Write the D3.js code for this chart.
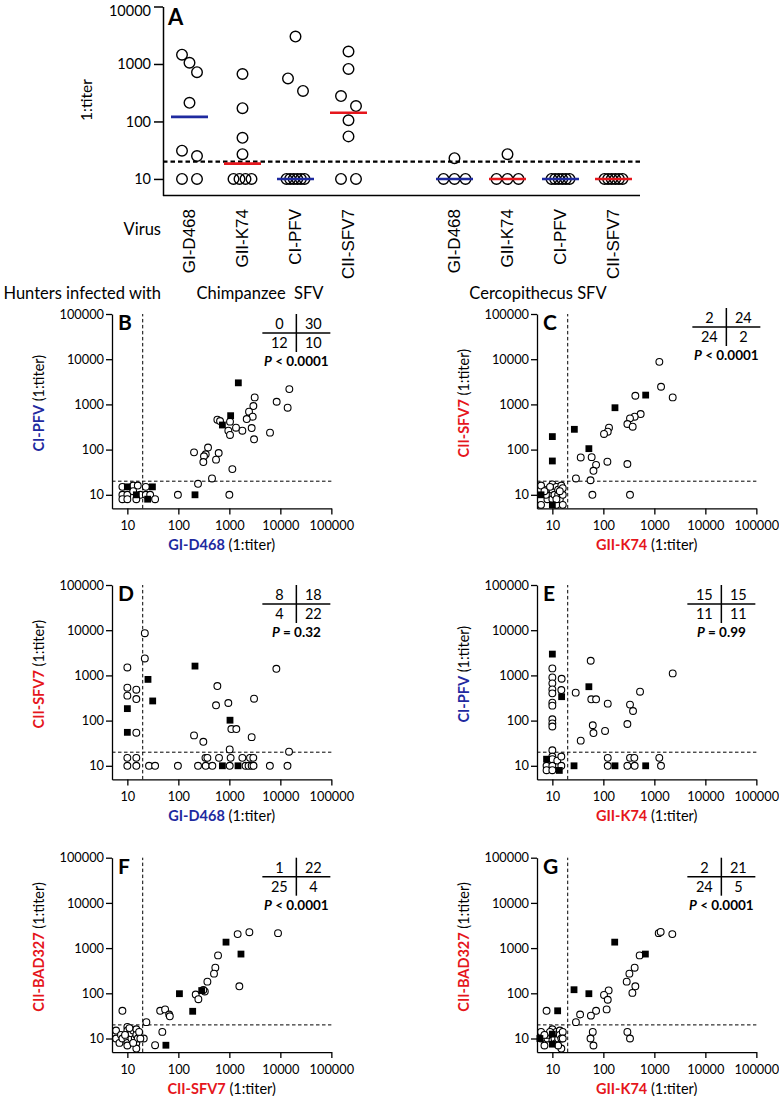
<!DOCTYPE html>
<html><head><meta charset="utf-8">
<script src="https://cdn.jsdelivr.net/npm/d3@7"></script>
<style>body{margin:0;background:#fff} svg{display:block}</style>
</head><body><svg id="c" width="779" height="1096"></svg>
<script>
const BLUE = "#1f2a9f", RED = "#e5161c";
const FONT = "Lato, 'Open Sans', sans-serif";

// ---------- Panel A data ----------
const virusLabels = ["GI-D468", "GII-K74", "CI-PFV", "CII-SFV7"];
const virusColors = [BLUE, RED, BLUE, RED];
const hostGroups = ["Chimpanzee  SFV", "Cercopithecus SFV"];
const chimpGID468 = [1450, 1050, 720, 211, 31, 25, 10, 10];
const chimpGIIK74 = [670, 170, 52, 27, 10, 10, 10, 10];
const chimpCIPFV = [3000, 560, 340, 10, 10, 10, 10, 10, 10];
const chimpCIISFV7 = [1650, 820, 276, 185, 105, 55, 10, 10];
const cercoGID468 = [23, 10, 10, 10];
const cercoGIIK74 = [27, 10, 10, 10];
const cercoCIPFV = [10, 10, 10, 10, 10, 10];
const cercoCIISFV7 = [10, 10, 10, 10, 10, 10];
const aMedians = [120, 18.5, 10, 142, 10, 10, 10, 10];
const aTicks = [10, 100, 1000, 10000];
const cutoff = 20;

// ---------- Scatter panel data ----------
const scatterTicks = [10, 100, 1000, 10000, 100000];

const bCircles = [[15000,2180],[8470,1145],[13900,845],[3140,1430],[2960,920],[2430,690],[2870,534],[2190,474],[2740,300],[3050,169],[6270,237],[1800,262],[1350,305],[1030,415],[955,262],[1030,211],[582,459],[657,429],[1145,37],[618,84],[548,60],[382,111],[344,79],[318,71],[309,53],[203,87],[457,23],[243,17.5],[98,10],[1000,10],
  [8,15],[13,16],[16,16],[8,10],[10,10],[18,10],[8,8],[10,8],[15,8],[13,12],[23,15],[23,10],[28,10],[35,8]];
const bSquares = [[1500,3000],[1060,563],[730,350],[212,10],[10,15],[15,10],[31,15],[25,8]];
const bTable = ["0", "30", "12", "10"];
const bP = "< 0.0001";

const cCircles = [[1253,8730],[1353,2455],[2290,1427],[424,1553],[539,612],[411,535],[333,491],[296,368],[376,321],[129,305],[122,249],[103,222],[36,67],[59,68],[72,46],[64,34],[120,54],[296,48],[29,23],[56,21],[61,10],[333,10],
  [6,16],[6,6],[8,13],[8,8],[7.5,10],[10,17],[10,13],[10,8],[11,10],[12,15],[12,6],[13,10],[13,13],[14,8],[15,16],[16,10],[16,6],[16,14],[7,12],[9,15],[14,12],[12,8]];
const cSquares = [[676,1607],[169,844],[27,281],[52,105],[10,194],[10,56],[6,10],[10,6]];
const cTable = ["2", "24", "24", "2"];
const cP = "< 0.0001";

const dCircles = [[22,8590],[22,2370],[10,1500],[10,535],[10,356],[15,483],[15,300],[15,54],[8350,1400],[582,582],[548,218],[955,245],[3050,305],[1095,65],[1370,65],[203,47],[309,34],[2740,43],[1016,23],[14800,20.5],
  [10,15],[15,15],[10,10],[15,10],
  [340,15],[371,15],[627,15],[1060,15],[1800,15],[2540,15],[2950,15],
  [26.6,10],[35,10],[98,10],[243,10],[344,10],[464,10],[1016,10],[2080,10],[2380,10],[2740,10],[2980,10],[6230,10],[13800,10]];
const dSquares = [[25.4,816],[31.4,272],[212,1607],[1030,102],[10,184],[10,55],[730,10],[1480,10]];
const dTable = ["8", "18", "4", "22"];
const dP = "= 0.32";

const eCircles = [[2290,1107],[56.5,2110],[524,436],[28.7,415],[58,296],[72,296],[122,237],[333,226],[382,163],[62,79],[64,53],[108,59],[296,84],[36,36],[15.2,844],[15,474],
  [10,1427],[10,903],[10,667],[10,491],[10,401],[10,249],[10,214],[10,107],[10,87],[10,74],[10,22],
  [122,15],[122,10],[296,10],[333,15],[405,15],[411,10],[1250,15],[1350,10],
  [7.7,10],[7.7,8],[10,16],[10,14],[10,10],[10,8],[12.5,13],[15,16],[15,10]];
const eSquares = [[10,2960],[52,562],[15.2,338],[26.6,10],[169,10],[676,10],[7.7,14],[13.7,7.9]];
const eTable = ["15", "15", "11", "11"];
const eP = "= 0.99";

const fCircles = [[9000,2140],[2470,2250],[1455,2040],[1570,143],[600,689],[531,368],[500,272],[371,181],[330,110],[309,118],[219,94],[247,74],[44,41],[55,44],[66,34],[68,31],[23.6,23],[8,41],[48.5,14],[35,7.1],[21,10],
  [6,15],[6,10],[7,8],[7.5,12],[8,10],[10,18],[10,15],[10,12],[10,10],[10,8],[10,7],[12,10],[12,13],[13,15],[14,10],[15,16],[15,12],[15,8],[15,6],[16,10],[18,10],[9,12],[11,17],[13,8],[17,14]];
const fSquares = [[860,1355],[1690,738],[105,98],[287,115],[191,40],[57,7.1]];
const fTable = ["1", "22", "25", "4"];
const fP = "< 0.0001";

const gCircles = [[1217,2140],[1330,2280],[2250,2040],[515,689],[411,368],[324,272],[287,181],[424,143],[371,102],[127,116],[103,92],[122,72],[116,44],[72,41],[57,32],[35,34],[29,23],[7.7,41],[62,14],[56,10],[64,7],[296,14],[333,10],
  [6,14],[6,10],[7,7],[8,10],[8,12],[10,16],[10,12],[10,9],[11,10],[12,14],[12,8],[13,10],[14,15],[14,12],[15,10],[15,6],[16,14],[16,10],[9,14],[13,7],[7,12]];
const gSquares = [[167,1355],[667,738],[26.6,120],[52,98],[12.7,41],[5.7,10],[10,12.5],[10,7.5]];
const gTable = ["2", "21", "24", "5"];
const gP = "< 0.0001";

// ---------- drawing ----------
const svg = d3.select("#c");

// Panel A
const aY = d3.scaleLog().domain([5.15, 10000]).range([195.5, 6.5]);
const aSlots = ["c0","c1","c2","c3","gap","k0","k1","k2","k3"];
const aX = d3.scalePoint().domain(aSlots).range([163, 640]).padding(0.5);
const aGroups = [
  {slot:"c0", vals:chimpGID468}, {slot:"c1", vals:chimpGIIK74}, {slot:"c2", vals:chimpCIPFV}, {slot:"c3", vals:chimpCIISFV7},
  {slot:"k0", vals:cercoGID468}, {slot:"k1", vals:cercoGIIK74}, {slot:"k2", vals:cercoCIPFV}, {slot:"k3", vals:cercoCIISFV7}
];
const gA = svg.append("g");

gA.append("line").attr("x1", 163).attr("x2", 640).attr("y1", aY(cutoff)).attr("y2", aY(cutoff))
  .attr("stroke", "#000").attr("stroke-width", 2.2).attr("stroke-dasharray", "4.5,3");

function layoutGroup(vals) {
  const pts = vals.map(v => ({v, y: aY(v)})).sort((a, b) => a.y - b.y);
  const clusters = [];
  pts.forEach((p, i) => {
    if (i === 0 || p.y - pts[i-1].y >= 14) clusters.push([p]); else clusters[clusters.length-1].push(p);
  });
  clusters.forEach(cl => {
    const k = cl.length;
    const tied = cl.every(p => p.v === cl[0].v);
    const s = k === 1 ? 0 : k === 2 ? 15 : k === 3 ? (tied ? 11 : 7.5) : 18 / (k - 1);
    cl.forEach((p, i) => p.dx = (i - (k - 1) / 2) * s);
  });
  return pts;
}

aGroups.forEach((g, gi) => {
  const cx = aX(g.slot);
  const pts = layoutGroup(g.vals);
  gA.selectAll(null).data(pts).enter().append("circle")
    .attr("cx", d => cx + d.dx).attr("cy", d => d.y).attr("r", 5.3)
    .attr("fill", "none").attr("stroke", "#000").attr("stroke-width", 1.4);
  gA.append("line").attr("x1", cx - 18.5).attr("x2", cx + 18.5)
    .attr("y1", aY(aMedians[gi])).attr("y2", aY(aMedians[gi]))
    .attr("stroke", virusColors[gi % 4]).attr("stroke-width", 2.6);
});

const aAxis = gA.append("g").attr("transform", "translate(163,0)")
  .call(d3.axisLeft(aY).tickValues(aTicks).tickFormat(d3.format("d")).tickSize(9).tickPadding(3).tickSizeOuter(0));
aAxis.attr("font-family", FONT).attr("font-size", 14.5);
aAxis.selectAll("path,line").attr("stroke", "#000").attr("stroke-width", 1.5);
aAxis.selectAll("text").attr("fill", "#000");
// keep the topmost tick label fully inside the page
aAxis.selectAll(".tick text").filter(d => d === 10000).attr("dy", "0.62em");
gA.append("line").attr("x1", 163).attr("x2", 640).attr("y1", 195.5).attr("y2", 195.5)
  .attr("stroke", "#000").attr("stroke-width", 1.5);

gA.append("text").attr("x", 168).attr("y", 25).attr("font-family", FONT).attr("font-weight", "bold")
  .attr("font-size", 22).text("A");
gA.append("text").attr("transform", "translate(92,100) rotate(-90)").attr("text-anchor", "middle")
  .attr("font-family", FONT).attr("font-size", 15.5).text("1:titer");

aGroups.forEach((g, gi) => {
  gA.append("text").attr("transform", `translate(${aX(g.slot)},209) rotate(-90)`)
    .attr("text-anchor", "end").attr("dominant-baseline", "central")
    .attr("font-family", "'Liberation Sans', Arial, sans-serif").attr("font-size", 17)
    .text(virusLabels[gi % 4]);
});
gA.append("text").attr("x", 161).attr("y", 229).attr("text-anchor", "end").attr("dominant-baseline", "central")
  .attr("font-family", FONT).attr("font-size", 16.5).text("Virus");
gA.append("text").attr("x", 161).attr("y", 293).attr("text-anchor", "end").attr("dominant-baseline", "central")
  .attr("font-family", FONT).attr("font-size", 16.5).text("Hunters infected with");
[[260, hostGroups[0]], [538, hostGroups[1]]].forEach(([x, t]) => {
  gA.append("text").attr("x", x).attr("y", 293).attr("text-anchor", "middle").attr("dominant-baseline", "central")
    .attr("font-family", FONT).attr("font-size", 16.5).style("white-space", "pre").text(t);
});

// Scatter panels
const DEC_X = 51, DEC_Y = 45.2;
const SPAN = Math.log10(1e5 / 5);
const panels = [
  {id:"B", circles:bCircles, squares:bSquares, table:bTable, p:bP, xName:"GI-D468", xCol:BLUE, yName:"CI-PFV", yCol:BLUE, left:112, top:314, tdx:-35, tdy:0},
  {id:"C", circles:cCircles, squares:cSquares, table:cTable, p:cP, xName:"GII-K74", xCol:RED, yName:"CII-SFV7", yCol:RED, left:537, top:314, tdx:-30, tdy:-6},
  {id:"D", circles:dCircles, squares:dSquares, table:dTable, p:dP, xName:"GI-D468", xCol:BLUE, yName:"CII-SFV7", yCol:RED, left:112, top:585, tdx:-35, tdy:0},
  {id:"E", circles:eCircles, squares:eSquares, table:eTable, p:eP, xName:"GII-K74", xCol:RED, yName:"CI-PFV", yCol:BLUE, left:537, top:585, tdx:-35, tdy:0},
  {id:"F", circles:fCircles, squares:fSquares, table:fTable, p:fP, xName:"CII-SFV7", xCol:RED, yName:"CII-BAD327", yCol:RED, left:112, top:857.7, tdx:-35, tdy:0},
  {id:"G", circles:gCircles, squares:gSquares, table:gTable, p:gP, xName:"GII-K74", xCol:RED, yName:"CII-BAD327", yCol:RED, left:537, top:857.7, tdx:-35, tdy:0}
];

panels.forEach(cfg => {
  const g = svg.append("g");
  const x0 = cfg.left, x1 = cfg.left + DEC_X * SPAN;
  const y1 = cfg.top, y0 = cfg.top + DEC_Y * SPAN;
  const xS = d3.scaleLog().domain([5, 1e5]).range([x0, x1]);
  const yS = d3.scaleLog().domain([5, 1e5]).range([y0, y1]);

  g.append("line").attr("x1", xS(cutoff)).attr("x2", xS(cutoff)).attr("y1", y0).attr("y2", y1)
    .attr("stroke", "#000").attr("stroke-width", 1).attr("stroke-dasharray", "3.5,2.5");
  g.append("line").attr("x1", x0).attr("x2", x1).attr("y1", yS(cutoff)).attr("y2", yS(cutoff))
    .attr("stroke", "#000").attr("stroke-width", 1).attr("stroke-dasharray", "3.5,2.5");

  g.selectAll(null).data(cfg.circles).enter().append("circle")
    .attr("cx", d => xS(d[0])).attr("cy", d => yS(d[1])).attr("r", 3.4)
    .attr("fill", "#fff").attr("stroke", "#000").attr("stroke-width", 1.1);
  g.selectAll(null).data(cfg.squares).enter().append("rect")
    .attr("x", d => xS(d[0]) - 3.4).attr("y", d => yS(d[1]) - 3.4).attr("width", 6.8).attr("height", 6.8)
    .attr("fill", "#000");

  const ya = g.append("g").attr("transform", `translate(${x0},0)`)
    .call(d3.axisLeft(yS).tickValues(scatterTicks).tickFormat(d3.format("d")).tickSize(6).tickPadding(2).tickSizeOuter(0));
  const xa = g.append("g").attr("transform", `translate(0,${y0})`)
    .call(d3.axisBottom(xS).tickValues(scatterTicks).tickFormat(d3.format("d")).tickSize(6).tickPadding(7).tickSizeOuter(0));
  [ya, xa].forEach(a => {
    a.attr("font-family", FONT).attr("font-size", 12.8);
    a.selectAll("path,line").attr("stroke", "#000").attr("stroke-width", 1.3);
    a.selectAll("text").attr("fill", "#000");
  });

  g.append("text").attr("x", x0 + 6).attr("y", y1 + 16).attr("font-family", FONT).attr("font-weight", "bold")
    .attr("font-size", 21).text(cfg.id);

  const xt = g.append("text").attr("x", (x0 + x1) / 2).attr("y", y0 + 36).attr("text-anchor", "middle")
    .attr("dominant-baseline", "central").attr("font-family", FONT).attr("font-size", 14.5);
  xt.append("tspan").attr("font-weight", "bold").attr("fill", cfg.xCol).text(cfg.xName);
  xt.append("tspan").attr("fill", "#000").text(" (1:titer)");

  const yt = g.append("text").attr("transform", `translate(${x0 - 74},${(y0 + y1) / 2 - 8}) rotate(-90)`)
    .attr("text-anchor", "middle").attr("dominant-baseline", "central").attr("font-family", FONT).attr("font-size", 14.5);
  yt.append("tspan").attr("font-weight", "bold").attr("fill", cfg.yCol).text(cfg.yName);
  yt.append("tspan").attr("fill", "#000").text(" (1:titer)");

  const cx = x1 + cfg.tdx, ty = y1 + cfg.tdy;
  g.append("line").attr("x1", cx).attr("x2", cx).attr("y1", ty).attr("y2", ty + 38).attr("stroke", "#000").attr("stroke-width", 1.5);
  g.append("line").attr("x1", cx - 34).attr("x2", cx + 34).attr("y1", ty + 19).attr("y2", ty + 19).attr("stroke", "#000").attr("stroke-width", 1.5);
  const pos = [[-17, 9.5], [17, 9.5], [-17, 28.5], [17, 28.5]];
  cfg.table.forEach((t, i) => {
    g.append("text").attr("x", cx + pos[i][0]).attr("y", ty + pos[i][1]).attr("text-anchor", "middle")
      .attr("dominant-baseline", "central").attr("font-family", FONT).attr("font-size", 14.5).text(t);
  });
  const pt = g.append("text").attr("x", cx).attr("y", ty + 47).attr("text-anchor", "middle")
    .attr("dominant-baseline", "central").attr("font-family", FONT).attr("font-size", 13.5).attr("font-weight", "bold");
  pt.append("tspan").attr("font-style", "italic").text("P");
  pt.append("tspan").text(" " + cfg.p);
});
</script></body></html>
